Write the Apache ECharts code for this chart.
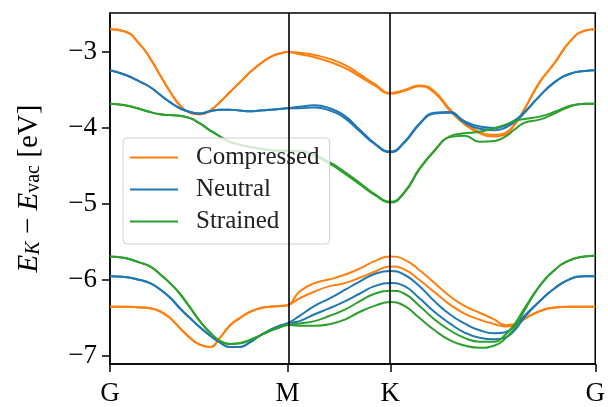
<!DOCTYPE html>
<html><head><meta charset="utf-8">
<script src="https://cdn.jsdelivr.net/npm/echarts@6/dist/echarts.min.js"></script>
<style>html,body{margin:0;padding:0;background:#fff}#c{width:608px;height:407px}</style>
</head><body><div id="c"></div>
<script>
// k-path distance (G=0, M=0.577, K=0.911, G=1.577)
const kPath = [0.000,0.049,0.097,0.130,0.162,0.195,0.227,0.260,0.292,0.325,0.357,0.389,0.422,0.454,0.487,0.519,0.552,0.577,
  0.616,0.665,0.714,0.763,0.811,0.860,0.911,
  0.957,1.006,1.055,1.104,1.152,1.201,1.250,1.282,1.315,1.347,1.396,1.444,1.493,1.542,1.577];
const symLabels = ['G','M','K','G'];
const symPos = [0, 0.577, 0.911, 1.577];
const yTicks = [-7,-6,-5,-4,-3];
const seriesNames = ['Compressed','Neutral','Strained'];

const compressedCB1 = [-2.70,-2.73,-2.90,-3.08,-3.30,-3.52,-3.70,-3.80,-3.82,-3.77,-3.66,-3.53,-3.40,-3.27,-3.16,-3.07,-3.02,-3.00,
  -3.01,-3.04,-3.09,-3.17,-3.29,-3.42,-3.54,
  -3.50,-3.44,-3.52,-3.75,-3.93,-4.05,-4.09,-4.07,-3.95,-3.75,-3.40,-3.15,-2.87,-2.72,-2.70];
const compressedCB2 = [-2.70,-2.73,-2.90,-3.08,-3.30,-3.52,-3.70,-3.80,-3.82,-3.77,-3.66,-3.53,-3.40,-3.27,-3.16,-3.07,-3.02,-3.00,
  -3.03,-3.07,-3.13,-3.21,-3.32,-3.44,-3.55,
  -3.51,-3.45,-3.54,-3.77,-3.95,-4.07,-4.11,-4.09,-3.96,-3.75,-3.40,-3.15,-2.87,-2.72,-2.70];
const compressedVB1 = [-6.35,-6.35,-6.36,-6.37,-6.41,-6.50,-6.63,-6.76,-6.85,-6.88,-6.76,-6.60,-6.50,-6.42,-6.37,-6.35,-6.34,-6.33,
  -6.15,-6.04,-5.99,-5.93,-5.85,-5.75,-5.69,
  -5.73,-5.87,-6.04,-6.21,-6.34,-6.43,-6.52,-6.59,-6.58,-6.51,-6.41,-6.36,-6.35,-6.35,-6.35];
const compressedVB2 = [-6.35,-6.35,-6.36,-6.37,-6.41,-6.50,-6.63,-6.76,-6.85,-6.88,-6.76,-6.60,-6.50,-6.42,-6.37,-6.35,-6.34,-6.33,
  -6.24,-6.15,-6.08,-6.04,-5.97,-5.89,-5.82,
  -5.86,-6.00,-6.16,-6.32,-6.44,-6.52,-6.58,-6.61,-6.60,-6.51,-6.41,-6.36,-6.35,-6.35,-6.35];

const neutralCB1 = [-3.24,-3.30,-3.39,-3.46,-3.56,-3.66,-3.74,-3.79,-3.81,-3.78,-3.76,-3.76,-3.77,-3.78,-3.77,-3.76,-3.75,-3.74,
  -3.72,-3.70,-3.74,-3.84,-4.02,-4.20,-4.31,
  -4.18,-3.94,-3.80,-3.79,-3.91,-3.98,-4.00,-3.97,-3.90,-3.79,-3.58,-3.40,-3.29,-3.25,-3.24];
const neutralCB2 = [-3.24,-3.30,-3.39,-3.46,-3.56,-3.66,-3.74,-3.79,-3.81,-3.78,-3.76,-3.76,-3.77,-3.78,-3.77,-3.76,-3.75,-3.74,
  -3.74,-3.73,-3.77,-3.87,-4.04,-4.21,-4.32,
  -4.19,-3.95,-3.81,-3.80,-3.93,-4.01,-4.03,-4.00,-3.92,-3.80,-3.58,-3.40,-3.29,-3.25,-3.24];
const neutralVB1 = [-5.95,-5.96,-6.00,-6.04,-6.12,-6.23,-6.37,-6.50,-6.62,-6.73,-6.82,-6.88,-6.88,-6.82,-6.73,-6.66,-6.60,-6.57,
  -6.47,-6.34,-6.24,-6.13,-6.02,-5.92,-5.88,
  -5.93,-6.08,-6.28,-6.45,-6.57,-6.66,-6.70,-6.69,-6.60,-6.47,-6.28,-6.11,-5.99,-5.95,-5.95];
const neutralVB2 = [-5.95,-5.96,-6.00,-6.04,-6.12,-6.23,-6.37,-6.50,-6.62,-6.73,-6.82,-6.88,-6.88,-6.82,-6.73,-6.66,-6.60,-6.57,
  -6.54,-6.45,-6.37,-6.28,-6.18,-6.08,-6.04,
  -6.08,-6.24,-6.42,-6.57,-6.69,-6.76,-6.78,-6.76,-6.66,-6.49,-6.28,-6.11,-5.99,-5.95,-5.95];

const strainedCB1 = [-3.68,-3.70,-3.75,-3.79,-3.82,-3.83,-3.84,-3.87,-3.94,-4.03,-4.11,-4.18,-4.22,-4.25,-4.27,-4.29,-4.30,-4.30,
  -4.30,-4.35,-4.45,-4.58,-4.72,-4.87,-4.97,
  -4.84,-4.53,-4.29,-4.11,-4.07,-4.05,-4.00,-3.96,-3.91,-3.88,-3.85,-3.79,-3.71,-3.68,-3.68];
const strainedCB2 = [-3.68,-3.70,-3.75,-3.79,-3.82,-3.83,-3.84,-3.87,-3.94,-4.03,-4.11,-4.18,-4.22,-4.25,-4.27,-4.29,-4.30,-4.30,
  -4.31,-4.37,-4.47,-4.60,-4.74,-4.88,-4.98,
  -4.85,-4.54,-4.30,-4.12,-4.10,-4.18,-4.17,-4.12,-4.02,-3.93,-3.89,-3.81,-3.72,-3.68,-3.68];
const strainedVB1 = [-5.69,-5.71,-5.77,-5.82,-5.92,-6.04,-6.18,-6.36,-6.54,-6.69,-6.80,-6.84,-6.83,-6.79,-6.73,-6.67,-6.62,-6.59,
  -6.57,-6.54,-6.47,-6.39,-6.28,-6.18,-6.14,
  -6.18,-6.34,-6.52,-6.66,-6.76,-6.81,-6.81,-6.73,-6.58,-6.37,-6.08,-5.87,-5.74,-5.69,-5.68];
const strainedVB2 = [-5.69,-5.71,-5.77,-5.82,-5.92,-6.04,-6.18,-6.36,-6.54,-6.69,-6.80,-6.84,-6.83,-6.79,-6.73,-6.67,-6.62,-6.59,
  -6.60,-6.60,-6.58,-6.52,-6.42,-6.34,-6.29,
  -6.34,-6.50,-6.66,-6.79,-6.86,-6.89,-6.86,-6.78,-6.63,-6.40,-6.08,-5.87,-5.74,-5.69,-5.68];

const colors = {Compressed:'#ff7f0e', Neutral:'#1f77b4', Strained:'#2ca02c'};
const bands = [
  ['Compressed', compressedCB1], ['Compressed', compressedCB2], ['Compressed', compressedVB1], ['Compressed', compressedVB2],
  ['Neutral', neutralCB1], ['Neutral', neutralCB2], ['Neutral', neutralVB1], ['Neutral', neutralVB2],
  ['Strained', strainedCB1], ['Strained', strainedCB2], ['Strained', strainedVB1], ['Strained', strainedVB2]
];
const FONT = 'Liberation Serif';

const series = bands.map(([name, vals], i) => ({
  type: 'line', name: name, showSymbol: false, smooth: 0.5, z: 3,
  data: vals.map((v, j) => [kPath[j], v]),
  lineStyle: {color: colors[name], width: 2},
  itemStyle: {color: colors[name]},
  emphasis: {disabled: true}
}));
series.push({
  type: 'line', data: [], silent: true, z: 2,
  markLine: {
    silent: true, symbol: ['none','none'], label: {show: false},
    lineStyle: {color: '#000', width: 1.6, type: 'solid'},
    emphasis: {disabled: true},
    data: [{xAxis: symPos[1]}, {xAxis: symPos[2]}]
  }
});

const chart = echarts.init(document.getElementById('c'), null, {renderer: 'canvas'});
chart.setOption({
  animation: false,
  backgroundColor: '#fff',
  grid: {left: 110, right: 12, top: 13, bottom: 39, show: true, borderColor: '#000', borderWidth: 1.5, backgroundColor: 'transparent'},
  legend: {
    data: seriesNames, orient: 'vertical', left: 123, top: 138,
    icon: 'rect', itemWidth: 48, itemHeight: 2, itemGap: 7,
    padding: [7, 10, 10, 7],
    backgroundColor: 'rgba(255,255,255,0.8)', borderColor: '#d0d0d0', borderWidth: 1, borderRadius: 4,
    textStyle: {fontFamily: FONT, fontSize: 25, color: '#222', padding: [0, 0, 0, 13]},
    selectedMode: false
  },
  xAxis: {
    type: 'value', min: 0, max: symPos[3],
    splitLine: {show: false},
    axisLine: {show: true, lineStyle: {color: '#000', width: 1.5}},
    axisTick: {show: true, customValues: symPos, length: 8, lineStyle: {color: '#000', width: 1.5}},
    axisLabel: {customValues: symPos, margin: 16, fontFamily: FONT, fontSize: 27, color: '#000',
      formatter: v => { const i = symPos.findIndex(p => Math.abs(p - v) < 1e-6); return i >= 0 ? symLabels[i] : ''; }}
  },
  yAxis: {
    type: 'value', min: -7.104, max: -2.487,
    splitLine: {show: false},
    axisLine: {show: true, lineStyle: {color: '#000', width: 1.5}},
    axisTick: {show: true, customValues: yTicks, length: 8, lineStyle: {color: '#000', width: 1.5}},
    axisLabel: {customValues: yTicks, margin: 13, fontFamily: FONT, fontSize: 27, color: '#000',
      formatter: v => (v < 0 ? '\u2212' : '') + Math.abs(v)},
    name: '{i|E}{s|K}{n| \u2212 }{i|E}{r|vac}{n| [eV]}',
    nameLocation: 'middle', nameGap: 66,
    nameTextStyle: {
      fontFamily: FONT, fontSize: 29, color: '#000',
      rich: {
        i: {fontFamily: FONT, fontSize: 29, fontStyle: 'italic', color: '#000', verticalAlign: 'top', lineHeight: 29, padding: [0,0,3,0]},
        n: {fontFamily: FONT, fontSize: 29, color: '#000', verticalAlign: 'top', lineHeight: 29, padding: [0,0,3,0]},
        s: {fontFamily: FONT, fontSize: 20, fontStyle: 'italic', color: '#000', verticalAlign: 'bottom', lineHeight: 20},
        r: {fontFamily: FONT, fontSize: 20, color: '#000', verticalAlign: 'bottom', lineHeight: 20}
      }
    }
  },
  series: series
});
</script>
</body></html>
